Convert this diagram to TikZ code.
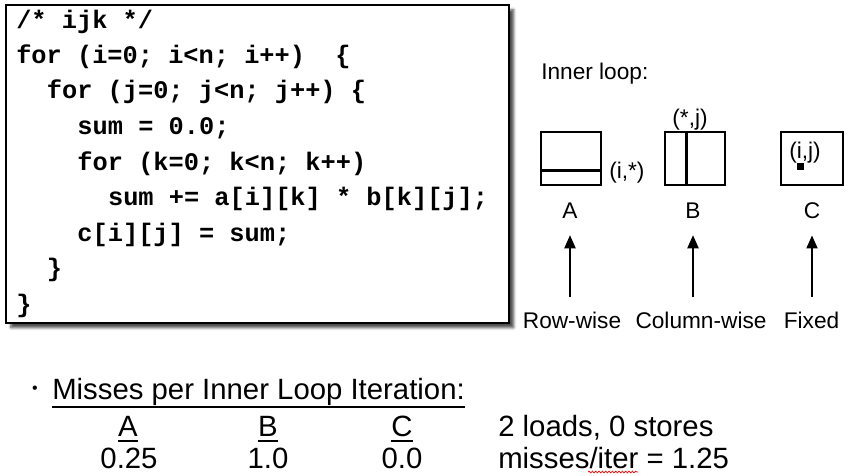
\documentclass[tikz,border=0pt]{standalone}
\usepackage{fontspec}
\setmainfont{Liberation Sans}
\newfontfamily\codefont{Liberation Mono}
\usetikzlibrary{arrows.meta, calc, shadows.blur, decorations.pathmorphing}

\begin{document}
\begin{tikzpicture}[
    x=0.75pt, y=-0.75pt,
    codebox/.style={draw, line width=1.1pt, fill=white, minimum width=377.25pt, minimum height=238.5pt,
        blur shadow={shadow xshift=3.5pt, shadow yshift=-3.5pt, shadow blur radius=2pt, shadow opacity=70}},
    codeline/.style={anchor=base west, inner sep=0pt, font=\codefont\bfseries\fontsize{19}{21}\selectfont},
    matbox/.style={draw, line width=0.8pt, minimum width=45pt, minimum height=39.75pt, inner sep=0pt},
    bar/.style={line width=2.3pt},
    label/.style={inner sep=0pt, anchor=base, font=\fontsize{17}{20}\selectfont},
    uparrow/.style={line width=2.2pt, -{Triangle[length=10pt, width=8pt]}, shorten <=10.5pt, shorten >=12.5pt},
    misses/.style={inner sep=0pt, anchor=base west, font=\fontsize{22}{26}\selectfont},
    cell/.style={inner sep=0pt, anchor=base, font=\fontsize{22}{26}\selectfont},
    uline/.style={line width=1.6pt}
]
\useasboundingbox (0,0) rectangle (855,475);

\node[codebox] (codebox) at (257.5,164) {};
\node[codeline] (code1) at (16,28.5)  {/* ijk */};
\node[codeline] (code2) at (16,63)    {for (i=0; i<n; i++)\ \ \{};
\node[codeline] (code3) at (46.6,98.5) {for (j=0; j<n; j++) \{};
\node[codeline] (code4) at (77.2,134)  {sum = 0.0;};
\node[codeline] (code5) at (77.2,170)  {for (k=0; k<n; k++)};
\node[codeline] (code6) at (107.8,205.5) {sum += a[i][k] * b[k][j];};
\node[codeline] (code7) at (77.2,241)  {c[i][j] = sum;};
\node[codeline] (code8) at (46.6,276.5) {\}};
\node[codeline] (code9) at (16,312)    {\}};

\node[label, anchor=base west] (inner) at (541,79) {Inner loop:};

\node[matbox] (matA) at (571,158.5) {};
\node[matbox] (matB) at (695,158.5) {};
\node[matbox, minimum width=46.5pt] (matC) at (812,158.5) {};
\draw[bar] ($(matA.south west)!0.283!(matA.north west)$) -- ($(matA.south east)!0.283!(matA.north east)$);
\draw[bar] ($(matB.north west)!0.367!(matB.north east)$) -- ($(matB.south west)!0.367!(matB.south east)$);
\node[fill, minimum size=5.25pt, inner sep=0pt] (elemC) at (800,166) {};

\node[label, anchor=base west] (rowA) at (609,178) {(i,*)};
\node[label] (colB) at (690,125) {(*,j)};
\node[label, anchor=base west] (ijC) at (789,158) {(i,j)};

\node[label] (labA) at (570,218) {A};
\node[label] (labB) at (693,218) {B};
\node[label] (labC) at (812,218) {C};

\node[label] (rowwise) at (572,328) {Row-wise};
\node[label] (colwise) at (701,328) {Column-wise};
\node[label] (fixed) at (811.5,328) {Fixed};

\draw[uparrow] (rowwise.north -| labA) -- (labA.south);
\draw[uparrow] (colwise.north -| labB) -- (labB.south);
\draw[uparrow] (fixed.north -| labC) -- (labC.south);

\node[inner sep=0pt, font=\fontsize{12}{12}\selectfont] (bullet) at (35,390) {\textbullet};
\node[misses] (title) at (52,399) {Misses per Inner Loop Iteration:};
\node[cell] (headA) at (128,436) {A};
\node[cell] (headB) at (268,436) {B};
\node[cell] (headC) at (402,436) {C};
\draw[uline] ([yshift=-6pt]title.base west) -- ([yshift=-6pt]title.base east);
\draw[uline] ([yshift=-4pt]headA.base west) -- ([yshift=-4pt]headA.base east);
\draw[uline] ([yshift=-4pt]headB.base west) -- ([yshift=-4pt]headB.base east);
\draw[uline] ([yshift=-4pt]headC.base west) -- ([yshift=-4pt]headC.base east);
\node[cell] (valA) at (129,468) {0.25};
\node[cell] (valB) at (268,468) {1.0};
\node[cell] (valC) at (402,468) {0.0};
\node[misses] (loads) at (498,436) {2 loads, 0 stores};
\node[misses] (total) at (498,468) {misses/iter = 1.25};
\draw[red, line width=0.5pt, decorate, decoration={snake, amplitude=0.7pt, segment length=2.5pt}] (588,472) -- (638,472);
\end{tikzpicture}
\end{document}
